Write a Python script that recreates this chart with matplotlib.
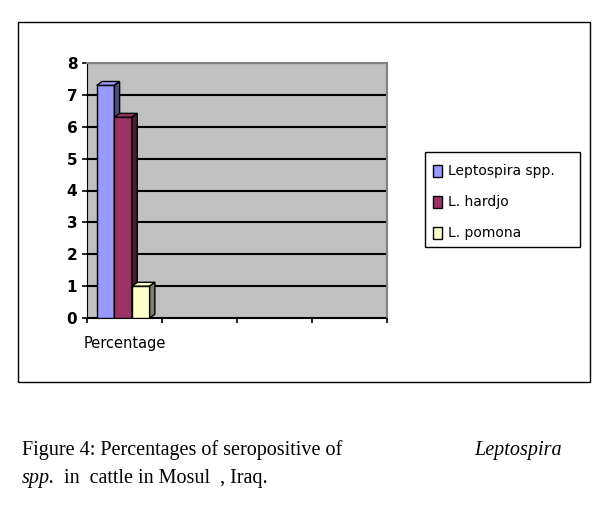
import matplotlib
matplotlib.use("Agg")
import matplotlib.pyplot as plt
from matplotlib.patches import Polygon, Rectangle

categories = ["Percentage"]
series = ["Leptospira spp.", "L. hardjo", "L. pomona"]
values = [7.3, 6.3, 1.0]
colors = ["#9999ff", "#993366", "#ffffcc"]
side_colors = ["#4d4d80", "#4d1a33", "#80806a"]

W, H = 606, 508
fig = plt.figure(figsize=(W/100, H/100), dpi=100)
fig.patches.append(Rectangle((18/W, (H-382)/H), 572/W, 360/H, transform=fig.transFigure,
                             fill=False, edgecolor="black", lw=1))

ax = fig.add_axes([87/W, (H-318)/H, 300/W, 255/H])
ax.set_facecolor("#c0c0c0")
ax.set_xlim(0, 4)
ax.set_ylim(0, 8)
ax.set_yticks(range(9))
ax.set_yticks(range(8))
ax.yaxis.grid(True, color="black", lw=1.5)
ax.set_yticks(range(9))
ax.set_axisbelow(True)
ax.set_xticks([0, 1, 2, 3, 4])
ax.set_xticklabels([])
ax.text(0.5, -0.55, categories[0], ha="center", va="top", fontsize=10.5, family="DejaVu Sans")
for s in ["top", "right"]:
    ax.spines[s].set_color("#808080")
    ax.spines[s].set_linewidth(1.5)
ax.tick_params(labelsize=11, width=1.2)
for lab in ax.get_yticklabels():
    lab.set_fontweight("bold")

bw, dx, dy = 0.235, 0.07, 0.12
x0 = 0.13
for i, (v, c, sc) in enumerate(zip(values, colors, side_colors)):
    x = x0 + i*bw
    ax.add_patch(Rectangle((x, 0), bw, v, facecolor=c, edgecolor="black", lw=1, zorder=3))
    ax.add_patch(Polygon([(x, v), (x+dx, v+dy), (x+bw+dx, v+dy), (x+bw, v)],
                         facecolor=c, edgecolor="black", lw=1, zorder=3))
    ax.add_patch(Polygon([(x+bw, 0), (x+bw+dx, dy), (x+bw+dx, v+dy), (x+bw, v)],
                         facecolor=sc, edgecolor="black", lw=1, zorder=3))

fig.patches.append(Rectangle((425/W, (H-247)/H), 155/W, 95/H, transform=fig.transFigure,
                             fill=False, edgecolor="black", lw=1))
for i, (s, c) in enumerate(zip(series, colors)):
    yc = 171 + i*31
    fig.patches.append(Rectangle((433/W, (H-yc-6)/H), 9/W, 12/H, transform=fig.transFigure,
                                 facecolor=c, edgecolor="black", lw=1))
    fig.text(448/W, (H-yc)/H, s, va="center", fontsize=10)

fs = 14.5
fig.text(22/W, (H-450)/H, "Figure 4: Percentages of seropositive of", fontsize=fs, family="Liberation Serif", va="center")
fig.text(474/W, (H-450)/H, "Leptospira", fontsize=fs, family="Liberation Serif", style="italic", va="center")
fig.text(22/W, (H-478)/H, "spp.", fontsize=fs, family="Liberation Serif", style="italic", va="center")
fig.text(64/W, (H-478)/H, "in  cattle in Mosul  , Iraq.", fontsize=fs, family="Liberation Serif", va="center")

fig.savefig("out.png", dpi=100)
